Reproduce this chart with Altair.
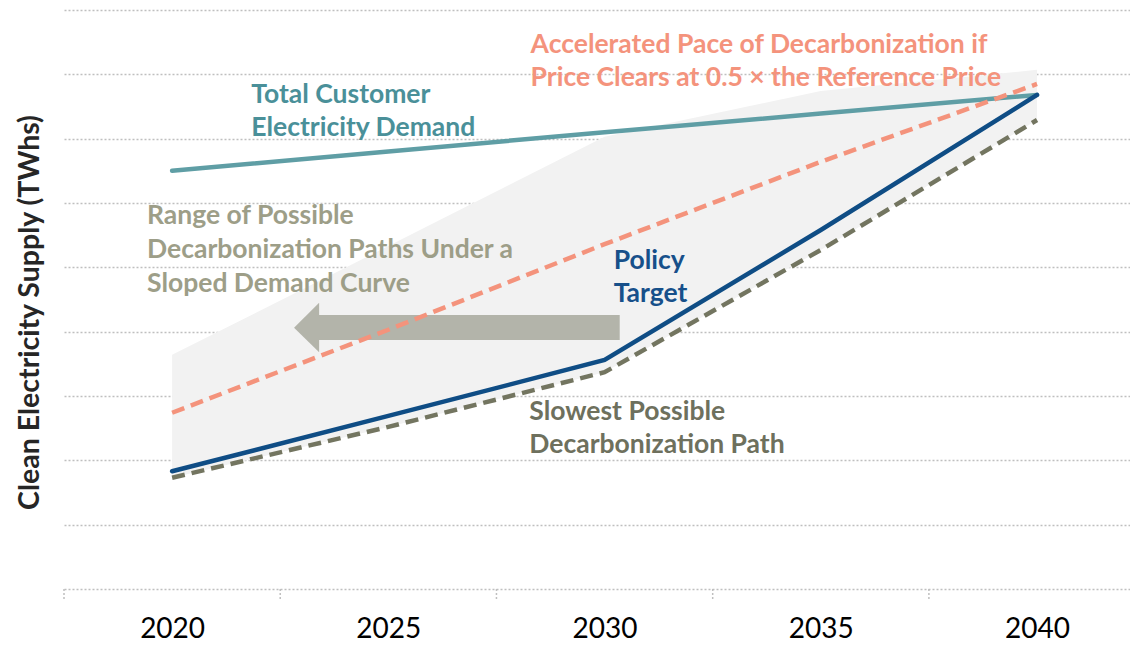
import altair as alt
import pandas as pd

# ---- data ----
years = [2020, 2025, 2030, 2035, 2040]
demand = [6.50, 6.80, 7.10, 7.39, 7.68]
accelerated = [2.74, 4.03, 5.36, 6.64, 7.85]
policy = [1.83, 2.69, 3.56, 5.58, 7.68]
slowest = [1.73, 2.52, 3.37, 5.27, 7.29]
range_top = [3.64, 5.33, 7.03, 7.74, 8.07]

tick_years = [2020, 2025, 2030, 2035, 2040]
boundary_years = [2017.5, 2022.5, 2027.5, 2032.5, 2037.5]
grid_values = [0, 1, 2, 3, 4, 5, 6, 7, 8, 9]

# arrow annotation (data units)
arrow_head_x = [2022.82, 2023.40]
arrow_head_top = [4.06, 4.45]
arrow_head_bottom = [4.06, 3.68]
arrow_shaft = {"x": 2023.38, "x2": 2030.35, "y": 4.26, "y2": 3.87}

# text annotations
label_lines = [
    ("Total Customer", 2021.83, 7.68, "#4a9099"),
    ("Electricity Demand", 2021.83, 7.17, "#4a9099"),
    ("Accelerated Pace of Decarbonization if", 2028.29, 8.46, "#f4937c"),
    ("Price Clears at 0.5 × the Reference Price", 2028.29, 7.94, "#f4937c"),
    ("Range of Possible", 2019.42, 5.80, "#9d9e88"),
    ("Decarbonization Paths Under a", 2019.42, 5.27, "#9d9e88"),
    ("Sloped Demand Curve", 2019.42, 4.74, "#9d9e88"),
    ("Policy", 2030.21, 5.10, "#17508a"),
    ("Target", 2030.21, 4.59, "#17508a"),
    ("Slowest Possible", 2028.26, 2.75, "#6e705d"),
    ("Decarbonization Path", 2028.26, 2.24, "#6e705d"),
]

FONT = "Lato"

df = pd.DataFrame({
    "year": years, "demand": demand, "accelerated": accelerated,
    "policy": policy, "slowest": slowest, "top": range_top,
})
labels_df = pd.DataFrame(label_lines, columns=["text", "x", "y", "color"])
head_df = pd.DataFrame({"x": arrow_head_x, "y": arrow_head_top, "y2": arrow_head_bottom})
shaft_df = pd.DataFrame([arrow_shaft])
bound_df = pd.DataFrame({"x": boundary_years})

xscale = alt.Scale(domain=[2017.5, 2042.15], nice=False, zero=False)
yscale = alt.Scale(domain=[0, 9], nice=False, zero=False)

xaxis = alt.Axis(values=tick_years, format="d", labelFontSize=28, labelColor="#000000",
                 labelFont=FONT, labelPadding=26, ticks=False, domain=False, grid=False,
                 title=None)
yaxis = alt.Axis(values=grid_values, labels=False, ticks=False, domain=False, grid=True,
                 gridDash=[2, 2], gridColor="#bfbfbf", gridWidth=1.5,
                 title="Clean Electricity Supply (TWhs)", titleFontSize=28.5,
                 titleFont=FONT, titleFontWeight="bold", titleColor="#262626",
                 titleX=-35, titleY=302, titleBaseline="middle", titleAngle=-90)

base = alt.Chart(df)

area = base.mark_area(color="#f2f2f2", opacity=1).encode(
    x=alt.X("year:Q", scale=xscale, axis=xaxis),
    y=alt.Y("top:Q", scale=yscale, axis=yaxis),
    y2="slowest:Q",
)

bounds = alt.Chart(bound_df).mark_rule(color="#bfbfbf", strokeDash=[2, 2], strokeWidth=1.5).encode(
    x=alt.X("x:Q", scale=xscale),
    y=alt.value(579), y2=alt.value(590),
)

teal = base.mark_line(color="#5f9ea5", strokeWidth=4.5, strokeCap="round").encode(
    x=alt.X("year:Q", scale=xscale), y=alt.Y("demand:Q", scale=yscale))
slow = base.mark_line(color="#737560", strokeWidth=4.5, strokeDash=[13, 7]).encode(
    x=alt.X("year:Q", scale=xscale), y=alt.Y("slowest:Q", scale=yscale))
navy = base.mark_line(color="#0f4d85", strokeWidth=4.5, strokeCap="round").encode(
    x=alt.X("year:Q", scale=xscale), y=alt.Y("policy:Q", scale=yscale))

head = alt.Chart(head_df).mark_area(color="#b3b4aa").encode(
    x=alt.X("x:Q", scale=xscale), y=alt.Y("y:Q", scale=yscale), y2="y2:Q")
shaft = alt.Chart(shaft_df).mark_rect(color="#b3b4aa").encode(
    x=alt.X("x:Q", scale=xscale), x2="x2:Q",
    y=alt.Y("y:Q", scale=yscale), y2="y2:Q")

salmon = base.mark_line(color="#f4937c", strokeWidth=4.5, strokeDash=[13, 7]).encode(
    x=alt.X("year:Q", scale=xscale), y=alt.Y("accelerated:Q", scale=yscale))

texts = alt.Chart(labels_df).mark_text(
    align="left", baseline="middle", font=FONT, fontWeight="bold", fontSize=26.5
).encode(
    x=alt.X("x:Q", scale=xscale), y=alt.Y("y:Q", scale=yscale),
    text="text:N", color=alt.Color("color:N", scale=None),
)

chart = alt.layer(area, bounds, teal, slow, navy, head, shaft, salmon, texts).properties(
    width=1066, height=579,
    autosize=alt.AutoSizeParams(type="none"),
    padding={"left": 56, "top": 2, "right": 0, "bottom": 56},
).configure_view(stroke=None)

chart.save("out.html", embed_options={"renderer": "svg", "actions": False})
